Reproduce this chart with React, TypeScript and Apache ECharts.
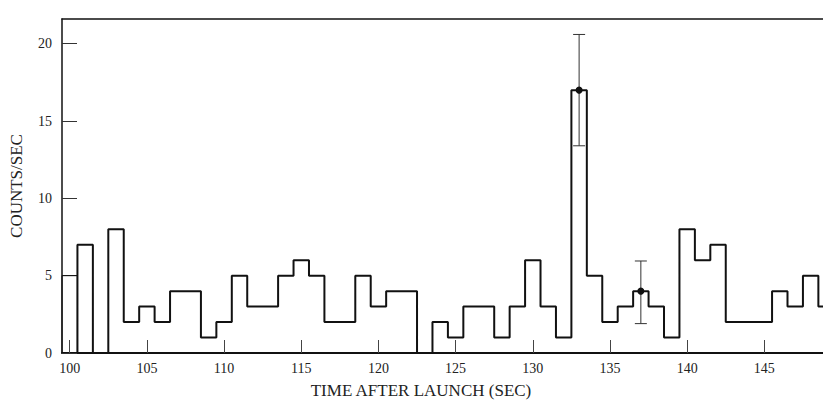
import React, { useEffect, useRef } from "react";
import * as echarts from "echarts";

// Histogram bins (1-second bins, centre time in seconds) and counts/sec
const firstBin = [[100, 5]];
const binCenters = [
  101, 102, 103, 104, 105, 106, 107, 108, 109, 110,
  111, 112, 113, 114, 115, 116, 117, 118, 119, 120,
  121, 122, 123, 124, 125, 126, 127, 128, 129, 130,
  131, 132, 133, 134, 135, 136, 137, 138, 139, 140,
  141, 142, 143, 144, 145, 146, 147, 148, 149,
];
const binValues = [
  7, 0, 8, 2, 3, 2, 4, 4, 1, 2,
  5, 3, 3, 5, 6, 5, 2, 2, 5, 3,
  4, 4, 0, 2, 1, 3, 3, 1, 3, 6,
  3, 1, 17, 5, 2, 3, 4, 3, 1, 8,
  6, 7, 2, 2, 2, 4, 3, 5, 3,
];
// Error bars: [time, value, lower, upper]
const errorBars = [
  [133, 17, 13.4, 20.6],
  [137, 4, 1.9, 5.95],
];
const xTicks = [100, 105, 110, 115, 120, 125, 130, 135, 140, 145];
const yTicks = [0, 5, 10, 15, 20];

const FONT = "Liberation Serif";

export default function App() {
  const ref = useRef<HTMLDivElement>(null);
  useEffect(() => {
    if (!ref.current) return;
    const chart = echarts.init(ref.current, null, { renderer: "svg" });
    const half = 0.5;
    const stepData: number[][] = [[binCenters[0] - half, 0]];
    binCenters.forEach((c, i) => stepData.push([c - half, binValues[i]]));
    stepData.push([
      binCenters[binCenters.length - 1] + half,
      binValues[binValues.length - 1],
    ]);
    const xMin = 99.5;
    const xMax = 148.8;
    chart.setOption({
      animation: false,
      backgroundColor: "#ffffff",
      grid: { left: 62, right: 0, top: 19, bottom: 47 },
      xAxis: [
        {
          type: "value",
          min: xMin,
          max: xMax,
          position: "bottom",
          splitLine: { show: false },
          axisLine: { show: true, lineStyle: { color: "#111", width: 2 } },
          axisTick: {
            show: true,
            inside: true,
            length: 13,
            customValues: xTicks,
            lineStyle: { color: "#444", width: 1 },
          },
          axisLabel: {
            customValues: xTicks,
            margin: 8,
            fontFamily: FONT,
            fontSize: 14,
            color: "#222",
          },
        },
        {
          type: "value",
          min: xMin,
          max: xMax,
          position: "top",
          splitLine: { show: false },
          axisLine: { show: true, lineStyle: { color: "#111", width: 1.5 } },
          axisTick: { show: false },
          axisLabel: { show: false },
        },
      ],
      yAxis: {
        type: "value",
        min: 0,
        max: 21.6,
        interval: 5,
        splitLine: { show: false },
        axisLine: { show: true, lineStyle: { color: "#111", width: 1.5 } },
        axisTick: {
          show: true,
          inside: true,
          length: 15,
          customValues: yTicks,
          lineStyle: { color: "#333", width: 1 },
        },
        axisLabel: {
          customValues: yTicks,
          margin: 10,
          fontFamily: FONT,
          fontSize: 14,
          color: "#222",
        },
        name: "COUNTS/SEC",
        nameLocation: "middle",
        nameGap: 37,
        nameRotate: 90,
        nameTextStyle: { fontFamily: FONT, fontSize: 17, color: "#222" },
      },
      graphic: [
        {
          type: "text",
          x: 421,
          y: 390,
          style: {
            text: "TIME AFTER LAUNCH (SEC)",
            fontFamily: FONT,
            fontSize: 17,
            fill: "#222",
            align: "center",
            verticalAlign: "middle",
          },
        },
      ],
      series: [
        {
          type: "custom",
          data: firstBin,
          encode: { x: 0, y: 1 },
          z: 2,
          renderItem: (params: any, api: any) => {
            const c = api.value(0);
            const v = api.value(1);
            const a = api.coord([c - half, 0]);
            const b = api.coord([c - half, v]);
            const d = api.coord([c + half, v]);
            const e = api.coord([c + half, 0]);
            return {
              type: "polyline",
              shape: { points: [a, b, d, e] },
              style: { stroke: "#111", lineWidth: 1, fill: "none" },
            };
          },
        },
        {
          type: "line",
          data: stepData,
          step: "end",
          showSymbol: false,
          lineStyle: { color: "#111", width: 2 },
          z: 3,
        },
        {
          type: "custom",
          data: errorBars,
          encode: { x: 0, y: [1, 2, 3] },
          z: 4,
          renderItem: (params: any, api: any) => {
            const x = api.value(0);
            const p = api.coord([x, api.value(1)]);
            const lo = api.coord([x, api.value(2)]);
            const hi = api.coord([x, api.value(3)]);
            const cap = 6;
            const st = { stroke: "#333", lineWidth: 1 };
            return {
              type: "group",
              children: [
                { type: "line", shape: { x1: lo[0], y1: lo[1], x2: hi[0], y2: hi[1] }, style: st },
                { type: "line", shape: { x1: lo[0] - cap, y1: lo[1], x2: lo[0] + cap, y2: lo[1] }, style: st },
                { type: "line", shape: { x1: hi[0] - cap, y1: hi[1], x2: hi[0] + cap, y2: hi[1] }, style: st },
                { type: "circle", shape: { cx: p[0], cy: p[1], r: 3.5 }, style: { fill: "#111" } },
              ],
            };
          },
        },
      ],
    });
    return () => chart.dispose();
  }, []);
  return (
    <div
      ref={ref}
      style={{ position: "fixed", left: 0, top: 0, width: 823, height: 400, background: "#fff" }}
    />
  );
}
